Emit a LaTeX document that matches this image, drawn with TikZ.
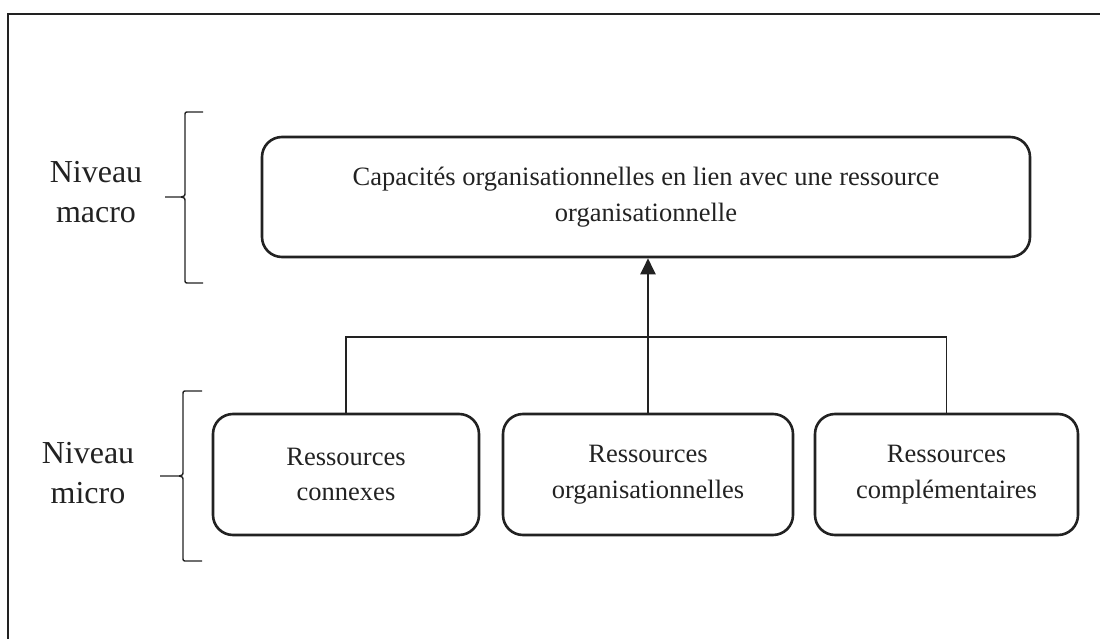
\documentclass[tikz,border=0pt]{standalone}
\usepackage{fontspec}
\setmainfont{Liberation Serif}
\usetikzlibrary{arrows.meta}
\definecolor{ink}{HTML}{222222}
\tikzset{
  resbox/.style={draw=ink, line width=2.6pt, rounded corners=20pt, align=center,
    text=ink, font=\fontsize{26.5}{35.5}\selectfont, inner sep=0pt},
  levellabel/.style={align=center, text=ink, font=\fontsize{32}{40.5}\selectfont, inner sep=0pt},
  brace/.style={draw=ink, line width=1.4pt},
  link/.style={draw=ink, line width=1.5pt},
  uparrow/.style={draw=ink, line width=2.2pt, -{Triangle[width=15pt,length=16pt]}}
}
\begin{document}
\begin{tikzpicture}[x=1pt, y=-1pt]
  \useasboundingbox (0,0) rectangle (1100,639);
  % outer frame (top and left edges)
  \draw[ink, line width=2pt] (8,639) -- (8,14) -- (1100,14);

  % upper level
  \node[resbox, minimum width=768pt, minimum height=120pt] (cap) at (646,197)
    {Capacités organisationnelles en lien avec une ressource\\organisationnelle};

  % lower level
  \node[resbox, minimum width=266pt, minimum height=121pt] (conn) at (346,474.5)
    {Ressources\\connexes};
  \node[resbox, minimum width=290pt, minimum height=121pt] (org) at (648,474.5)
    {Ressources\\organisationnelles};
  \node[resbox, minimum width=263pt, minimum height=121pt] (comp) at (946.5,474.5)
    {Ressources\\complémentaires};

  % connectors
  \coordinate (bus) at (648,337);
  \draw[link] (conn.north) |- (bus) -| (comp.north);
  \draw[link] (org.north) -- (bus);
  \draw[uparrow] (bus) -- (bus |- cap.south);

  % level labels
  \node[levellabel] (macro) at (96,192) {Niveau\\macro};
  \node[levellabel] (micro) at (88,473) {Niveau\\micro};

  % braces
  \draw[brace] (203,112) -- (189,112) .. controls (185,112) .. (185,116)
    -- (185,192) .. controls (185,196) .. (181,197) -- (165,197);
  \draw[brace] (181,197) .. controls (185,198) .. (185,202)
    -- (185,279) .. controls (185,283) .. (189,283) -- (203,283);
  \draw[brace] (202,391) -- (187,391) .. controls (183,391) .. (183,395)
    -- (183,471) .. controls (183,475) .. (179,476) -- (160,476);
  \draw[brace] (179,476) .. controls (183,477) .. (183,481)
    -- (183,557) .. controls (183,561) .. (187,561) -- (202,561);
\end{tikzpicture}
\end{document}
